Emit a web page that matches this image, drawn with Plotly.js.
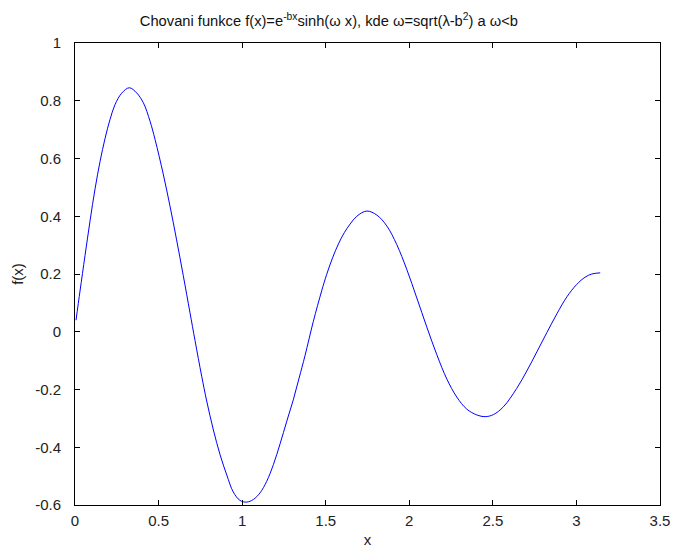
<!DOCTYPE html>
<html>
<head>
<meta charset="utf-8">
<script src="https://cdn.plot.ly/plotly-3.0.1.min.js"></script>
<style>html,body{margin:0;padding:0;background:#fff;}#chart{width:674px;height:549px;}</style>
</head>
<body>
<div id="chart"></div>
<script>
var xValues = [0.006,0.030,0.060,0.090,0.120,0.150,0.180,0.209,0.239,0.279,0.325,0.369,0.409,0.449,0.479,0.528,0.568,0.608,0.648,0.688,0.718,
  0.758,0.788,0.828,0.868,0.908,0.947,0.987,1.027,1.067,1.107,1.147,1.187,1.227,1.267,1.306,1.341,1.376,1.426,1.476,1.506,1.541,1.576,1.611,
  1.646,1.686,1.746,1.806,1.866,1.925,1.985,2.045,2.105,2.165,2.225,2.284,2.344,2.404,2.454,2.503,2.563,2.643,2.703,2.763,2.823,2.883,2.943,3.002,3.052,3.092,3.142];
var yValues = [0.040,0.141,0.264,0.384,0.495,0.590,0.670,0.734,0.786,0.826,0.845,0.827,0.793,0.729,0.666,0.546,0.436,0.318,0.194,0.066,-0.030,
  -0.154,-0.240,-0.340,-0.426,-0.496,-0.555,-0.584,-0.590,-0.581,-0.558,-0.518,-0.460,-0.388,-0.310,-0.236,-0.160,-0.083,0.036,0.142,0.199,0.256,0.304,0.343,
  0.373,0.400,0.418,0.404,0.366,0.302,0.216,0.117,0.016,-0.080,-0.164,-0.226,-0.268,-0.288,-0.294,-0.287,-0.260,-0.196,-0.136,-0.070,-0.003,0.062,0.121,0.164,0.189,0.200,0.204];
var xTicks = [0,0.5,1,1.5,2,2.5,3,3.5];
var xTickText = ['0','0.5','1','1.5','2','2.5','3','3.5'];
var yTicks = [-0.6,-0.4,-0.2,0,0.2,0.4,0.6,0.8,1];
var yTickText = ['-0.6','-0.4','-0.2','0','0.2','0.4','0.6','0.8','1'];

var fam = 'Liberation Sans, Arial, sans-serif';
var font = {family:fam, size:15, color:'#222'};
var trace = {x:xValues, y:yValues, type:'scatter', mode:'lines', line:{color:'#0000ff', width:1, shape:'spline', smoothing:1}, hoverinfo:'skip'};
var axisCommon = {showgrid:false, zeroline:false, showline:true, linecolor:'#000', linewidth:1, mirror:'ticks', ticks:'inside', ticklen:5, tickcolor:'#000', tickfont:font};
var layout = {
  width:674, height:549,
  margin:{l:75, r:14, t:43, b:44},
  paper_bgcolor:'#fff', plot_bgcolor:'#fff',
  showlegend:false,
  title:{text:'Chovani funkce f(x)=e<sup>-bx</sup>sinh(ω x), kde ω=sqrt(λ-b<sup>2</sup>) a ω&lt;b', font:{family:fam, size:14.7, color:'#111'}, x:0.488, xref:'container', xanchor:'center', y:0.962, yanchor:'middle'},
  xaxis:Object.assign({}, axisCommon, {range:[0,3.5], tickvals:xTicks, ticktext:xTickText, ticklabelstandoff:2, title:{text:'x', font:font, standoff:6}}),
  yaxis:Object.assign({}, axisCommon, {range:[-0.6,1], tickvals:yTicks, ticktext:yTickText, ticklabelstandoff:10, title:{text:'f(x)', font:font, standoff:7}})
};
Plotly.newPlot('chart', [trace], layout, {staticPlot:true});
</script>
</body>
</html>
